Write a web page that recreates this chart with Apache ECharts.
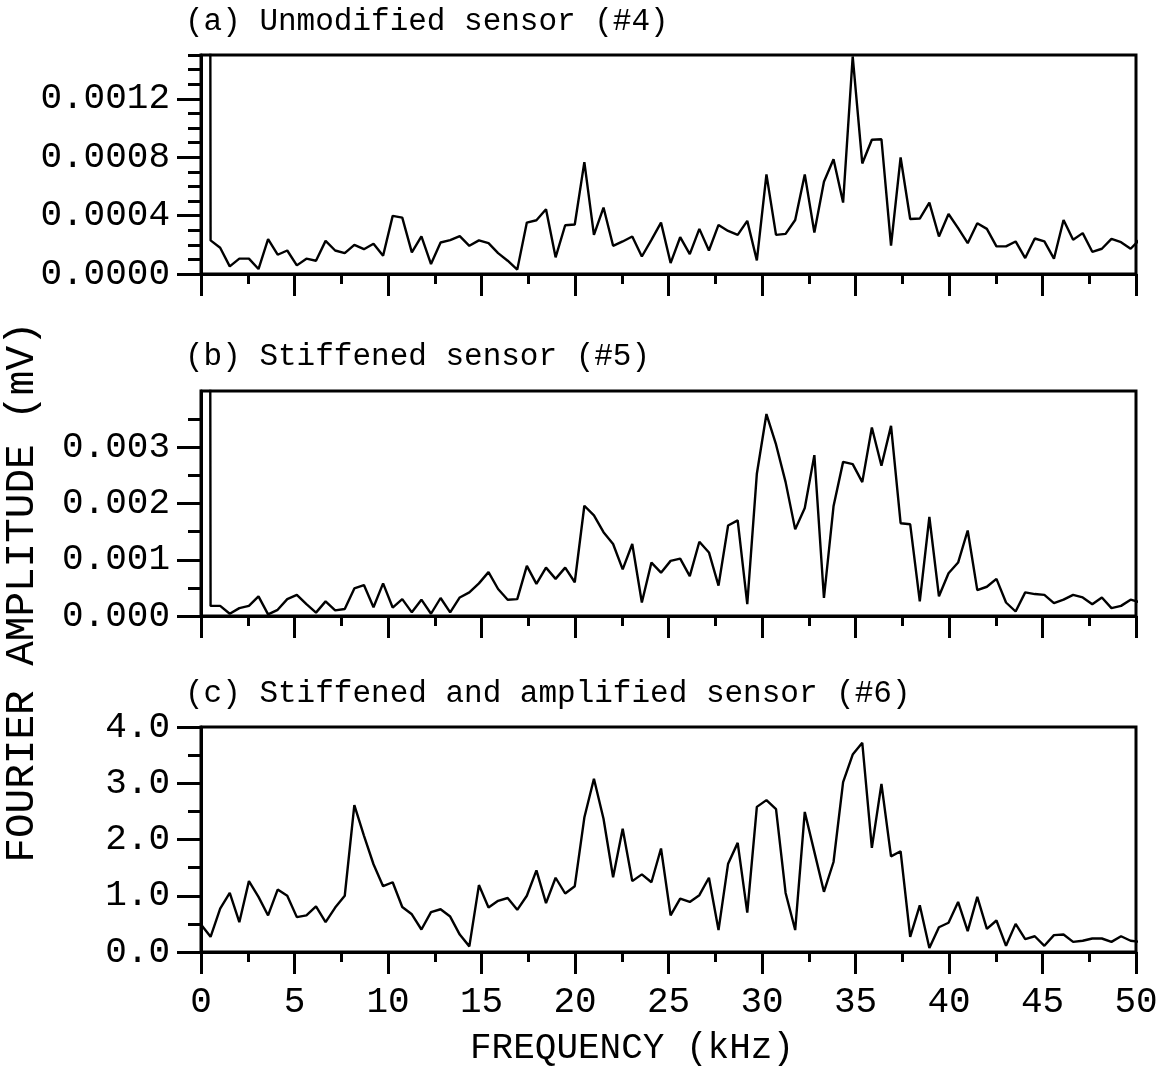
<!DOCTYPE html>
<html>
<head>
<meta charset="utf-8">
<script src="https://cdn.jsdelivr.net/npm/echarts@6/dist/echarts.min.js"></script>
<style>
  html, body { margin: 0; padding: 0; background: #fff; }
  #chart { width: 1165px; height: 1066px; }
</style>
</head>
<body>
<div id="chart"></div>
<script>
// Frequency spacing of the spectral bins (kHz); bin i sits at i * freqStep.
const freqStep = 0.5125;

// Panel titles
const panelTitles = [
  '(a) Unmodified sensor (#4)',
  '(b) Stiffened sensor (#5)',
  '(c) Stiffened and amplified sensor (#6)'
];

// Fourier amplitude (mV) per bin. Bin 0 is the off-scale DC component.
const ampA = [
  0.05, 0.00023, 0.00018, 0.000052, 0.000105, 0.000105, 0.000034, 0.000239, 0.000132, 0.000161,
  0.000059, 0.000105, 0.000091, 0.000227, 0.000161, 0.000143, 0.0002, 0.00017, 0.000207, 0.000125,
  0.000398, 0.000386, 0.000148, 0.000257, 0.000068, 0.000216, 0.000232, 0.000259, 0.000193, 0.00023,
  0.000211, 0.000143, 0.000091, 0.00003, 0.000352, 0.000368, 0.000443, 0.000114, 0.000334, 0.000339,
  0.000766, 0.000268, 0.000455, 0.000193, 0.000223, 0.000257, 0.00012, 0.000234, 0.000352, 0.000075,
  0.000252, 0.000136, 0.000309, 0.000161, 0.000336, 0.000295, 0.000268, 0.000364, 0.000093, 0.000682,
  0.000268, 0.000275, 0.00037, 0.000682, 0.000284, 0.000632, 0.000786, 0.000489, 0.00149, 0.000757,
  0.00092, 0.000923, 0.000195, 0.000798, 0.000377, 0.00038, 0.000489, 0.000257, 0.000411, 0.000314,
  0.000211, 0.000348, 0.000309, 0.000189, 0.000189, 0.000223, 0.000109, 0.000243, 0.000223, 0.000105,
  0.00037, 0.000234, 0.00028, 0.000152, 0.000173, 0.000241, 0.000218, 0.000173, 0.00024
];

const ampB = [
  0.12, 0.00018, 0.00018, 0.00004, 0.00014, 0.00018, 0.00035, 0.00003, 0.00011, 0.0003,
  0.000375, 0.00021, 0.00006, 0.00026, 0.0001, 0.000125, 0.00049, 0.00055, 0.000155, 0.00058,
  0.00015, 0.0003, 0.000065, 0.00029, 0.00004, 0.00032, 0.000065, 0.00033, 0.00042, 0.00058,
  0.00078, 0.00048, 0.00029, 0.0003, 0.00089, 0.00057, 0.00086, 0.00066, 0.00086, 0.0006,
  0.00196, 0.00179, 0.00149, 0.00128, 0.00083, 0.00128, 0.00024, 0.00095, 0.00077, 0.00098,
  0.00102, 0.00071, 0.00132, 0.00113, 0.00054, 0.00161, 0.0017, 0.00021, 0.00253, 0.00359,
  0.00305, 0.00238, 0.00154, 0.00192, 0.00286, 0.00032, 0.00195, 0.00274, 0.0027, 0.00238,
  0.00335, 0.00267, 0.00338, 0.00165, 0.00163, 0.00026, 0.00176, 0.00035, 0.00076, 0.00095,
  0.00152, 0.00046, 0.00052, 0.00066, 0.00024, 0.00008, 0.00042, 0.00039, 0.000375, 0.00023,
  0.00029, 0.000375, 0.00033, 0.00021, 0.00033, 0.00014, 0.00018, 0.00029, 0.00024
];

const ampC = [
  0.49, 0.27, 0.77, 1.05, 0.53, 1.26, 0.98, 0.65, 1.11, 1.0,
  0.62, 0.65, 0.81, 0.53, 0.79, 1.0, 2.61, 2.07, 1.56, 1.17,
  1.24, 0.8, 0.67, 0.4, 0.71, 0.76, 0.63, 0.31, 0.1, 1.19,
  0.79, 0.91, 0.96, 0.75, 1.0, 1.45, 0.87, 1.32, 1.04, 1.17,
  2.39, 3.08, 2.37, 1.33, 2.19, 1.26, 1.38, 1.24, 1.84, 0.65,
  0.95, 0.89, 1.01, 1.32, 0.39, 1.57, 1.94, 0.7, 2.58, 2.7,
  2.54, 1.05, 0.39, 2.49, 1.78, 1.07, 1.6, 3.02, 3.51, 3.72,
  1.85, 2.99, 1.7, 1.79, 0.27, 0.83, 0.07, 0.44, 0.52, 0.89,
  0.37, 0.98, 0.41, 0.56, 0.11, 0.5, 0.23, 0.28, 0.11, 0.3,
  0.31, 0.18, 0.2, 0.24, 0.24, 0.18, 0.28, 0.2, 0.18
];

// Axis ranges and tick values
const freqMax = 50;
const freqTickStep = 5;
const yMaxA = 0.0015, yMaxB = 0.004, yMaxC = 4.0;
const majorTicksA = [0, 0.0004, 0.0008, 0.0012];
const minorTicksA = [0.0001, 0.0002, 0.0003, 0.0005, 0.0006, 0.0007, 0.0009, 0.001, 0.0011, 0.0013, 0.0014, 0.0015];
const majorTicksB = [0, 0.001, 0.002, 0.003];
const minorTicksB = [0.0005, 0.0015, 0.0025, 0.0035];
const majorTicksC = [0, 1, 2, 3, 4];
const minorTicksC = [0.5, 1.5, 2.5, 3.5];
const labelDigits = [4, 3, 1];

const FONT = '"Liberation Mono", "Courier New", monospace';
const INK = '#000';

const toPoints = arr => arr.map((v, i) => [i * freqStep, v]);

const grids = [
  { left: 201, right: 29, top: 55, height: 219 },
  { left: 201, right: 29, top: 391, height: 225 },
  { left: 201, right: 29, top: 727, height: 225 }
].map(g => Object.assign(g, { show: true, borderColor: INK, borderWidth: 3, backgroundColor: 'transparent' }));

const xAxes = [0, 1, 2].map(k => ({
  type: 'value', gridIndex: k, min: 0, max: freqMax, interval: freqTickStep,
  axisLine: { show: true, onZero: false, lineStyle: { color: INK, width: 3 } },
  axisTick: { show: true, length: 22, lineStyle: { color: INK, width: 3 } },
  minorTick: { show: true, splitNumber: 2, length: 10, lineStyle: { color: INK, width: 3 } },
  splitLine: { show: false },
  axisLabel: {
    show: k === 2, margin: 32, color: INK, fontFamily: FONT, fontSize: 36
  }
}));

const yMax = [yMaxA, yMaxB, yMaxC];
const majors = [majorTicksA, majorTicksB, majorTicksC];
const minors = [minorTicksA, minorTicksB, minorTicksC];

const yAxes = [];
[0, 1, 2].forEach(k => {
  // labelled axis with long major ticks
  yAxes.push({
    type: 'value', gridIndex: k, position: 'left', min: 0, max: yMax[k],
    axisLine: { show: true, onZero: false, lineStyle: { color: INK, width: 3 } },
    axisTick: { show: true, length: 24, customValues: majors[k], lineStyle: { color: INK, width: 3 } },
    splitLine: { show: false },
    axisLabel: {
      show: true, customValues: majors[k], margin: 31, color: INK, fontFamily: FONT, fontSize: 36,
      formatter: v => Number(v).toFixed(labelDigits[k])
    }
  });
  // companion axis carrying the short minor ticks
  yAxes.push({
    type: 'value', gridIndex: k, position: 'left', min: 0, max: yMax[k],
    axisLine: { show: false },
    axisTick: { show: true, length: 13, customValues: minors[k], lineStyle: { color: INK, width: 3 } },
    splitLine: { show: false },
    axisLabel: { show: false }
  });
});

const seriesData = [ampA, ampB, ampC];
const series = seriesData.map((arr, k) => ({
  type: 'line', xAxisIndex: k, yAxisIndex: 2 * k,
  data: toPoints(arr),
  symbol: 'none', clip: true, smooth: false,
  lineStyle: { color: INK, width: 2.4 },
  animation: false
}));

const titleTops = [1, 336, 673];
const titles = panelTitles.map((t, k) => ({
  text: t, left: 180, top: titleTops[k],
  textStyle: { fontFamily: FONT, fontSize: 31, fontWeight: 'normal', color: INK }
}));

const chart = echarts.init(document.getElementById('chart'), null, { renderer: 'canvas' });
chart.setOption({
  animation: false,
  backgroundColor: '#fff',
  title: titles,
  grid: grids,
  xAxis: xAxes,
  yAxis: yAxes,
  series: series,
  graphic: [
    {
      type: 'text', x: 22, y: 592, rotation: Math.PI / 2,
      style: {
        text: 'FOURIER AMPLITUDE (mV)', fill: INK, font: '41px ' + FONT,
        textAlign: 'center', textVerticalAlign: 'middle'
      }
    },
    {
      type: 'text', x: 632, y: 1048,
      style: {
        text: 'FREQUENCY (kHz)', fill: INK, font: '36px ' + FONT,
        textAlign: 'center', textVerticalAlign: 'middle'
      }
    }
  ]
});
</script>
</body>
</html>
